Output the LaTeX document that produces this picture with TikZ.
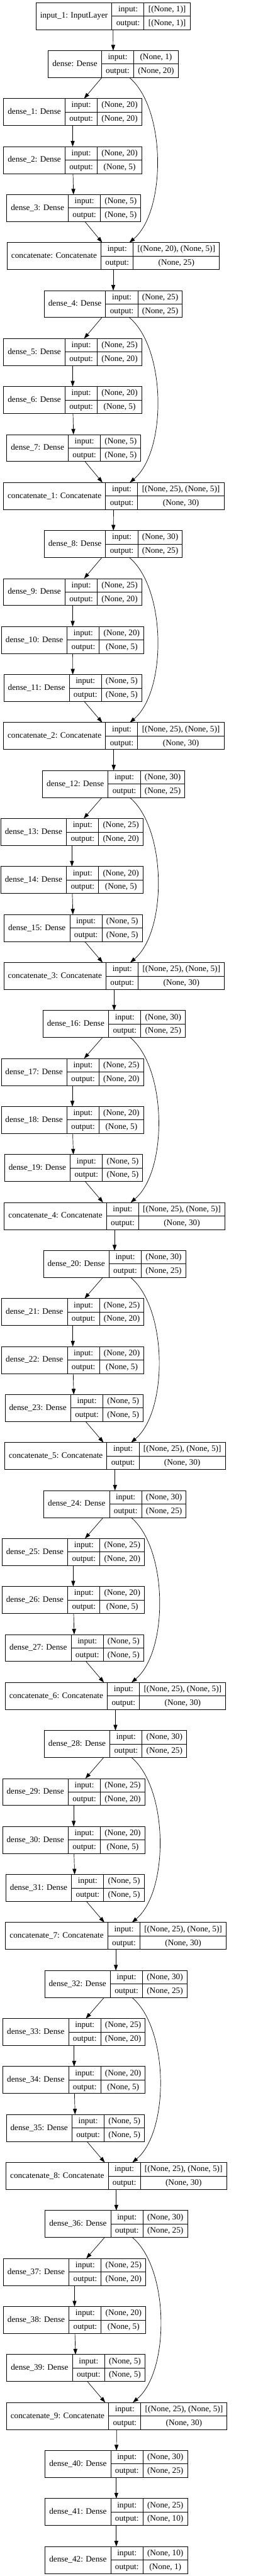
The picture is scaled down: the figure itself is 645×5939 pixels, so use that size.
\documentclass[tikz,border=0pt]{standalone}
\usepackage{fontspec}
\setmainfont{Liberation Serif}
\usetikzlibrary{arrows.meta,positioning}

\newcommand\nodefont{\fontsize{9.6}{11}\selectfont}
\renewcommand\arraystretch{0}
\setlength\arrayrulewidth{0.6pt}
\newcommand\rowstrut{\rule[-4.9pt]{0pt}{15.25pt}}

% one layer record: name, centre x, rank, label, input shape, output shape
\newcommand\layer[6]{%
  \node[record] (#1) at (#2,{37+110.66*(#3)}) {%
    \begin{tabular}{@{\hspace{4.75pt}}c@{\hspace{4.75pt}}|@{}c@{}}
      #4 &
      \begin{tabular}{@{\hspace{4.75pt}}c@{\hspace{4.75pt}}|@{\hspace{4.75pt}}c@{\hspace{4.75pt}}}
        \rowstrut input: & #5 \\ \hline
        \rowstrut output: & #6
      \end{tabular}
    \end{tabular}};
}

\begin{document}
\begin{tikzpicture}[
    x=0.5pt, y=-0.5pt,
    record/.style={draw, line width=0.6pt, inner sep=0pt, outer sep=0pt, font=\nodefont},
    link/.style={line width=0.5pt, -{Triangle[length=6.5pt, width=4.5pt]}},
    bypass/.style={out=-40, in=40, looseness=0.75}
]
\useasboundingbox (0,0) rectangle (645,5939);

% Input and first block
\layer{inp}{260.5}{0}{input\_1: InputLayer}{[(None, 1)]}{[(None, 1)]}
\layer{d0}{261}{1}{dense: Dense}{(None, 1)}{(None, 20)}
\layer{d1}{167.5}{2}{dense\_1: Dense}{(None, 20)}{(None, 20)}
\layer{d2}{167.5}{3}{dense\_2: Dense}{(None, 20)}{(None, 5)}
\layer{d3}{170}{4}{dense\_3: Dense}{(None, 5)}{(None, 5)}
\layer{c0}{261}{5}{concatenate: Concatenate}{[(None, 20), (None, 5)]}{(None, 25)}

\draw[link] (inp) -- (d0);
\draw[link] (d0) -- (d1);
\draw[link] (d1) -- (d2);
\draw[link] (d2) -- (d3);
\draw[link] (d3) -- (c0);
\draw[link] (d0) to[bypass] (c0);

% Repeated blocks
\foreach \k in {1,...,9}{
  \pgfmathtruncatemacro\p{\k-1}
  \pgfmathtruncatemacro\dn{4*\k}
  \pgfmathtruncatemacro\da{4*\k+1}
  \pgfmathtruncatemacro\db{4*\k+2}
  \pgfmathtruncatemacro\dc{4*\k+3}
  \pgfmathsetmacro\tx{\k<3 ? 261 : 259+\k}
  \pgfmathsetmacro\sx{\k<3 ? 167.5 : 162.8+\k}
  \pgfmathsetmacro\ux{\k<2 ? 170 : 165.8+\k}
  \ifnum\k=1 \def\tin{(None, 25)}\else\def\tin{(None, 30)}\fi
  \layer{d\dn}{\tx}{5*\k+1}{dense\_\dn: Dense}{\tin}{(None, 25)}
  \layer{d\da}{\sx}{5*\k+2}{dense\_\da: Dense}{(None, 25)}{(None, 20)}
  \layer{d\db}{\sx}{5*\k+3}{dense\_\db: Dense}{(None, 20)}{(None, 5)}
  \layer{d\dc}{\ux}{5*\k+4}{dense\_\dc: Dense}{(None, 5)}{(None, 5)}
  \layer{c\k}{\tx+1}{5*\k+5}{concatenate\_\k: Concatenate}{[(None, 25), (None, 5)]}{(None, 30)}
  \draw[link] (c\p) -- (d\dn);
  \draw[link] (d\dn) -- (d\da);
  \draw[link] (d\da) -- (d\db);
  \draw[link] (d\db) -- (d\dc);
  \draw[link] (d\dc) -- (c\k);
  \draw[link] (d\dn) to[bypass] (c\k);
}

% Output head
\layer{d40}{268}{51}{dense\_40: Dense}{(None, 30)}{(None, 25)}
\layer{d41}{268}{52}{dense\_41: Dense}{(None, 25)}{(None, 10)}
\layer{d42}{268}{53}{dense\_42: Dense}{(None, 10)}{(None, 1)}

\draw[link] (c9) -- (d40);
\draw[link] (d40) -- (d41);
\draw[link] (d41) -- (d42);

\end{tikzpicture}
\end{document}
